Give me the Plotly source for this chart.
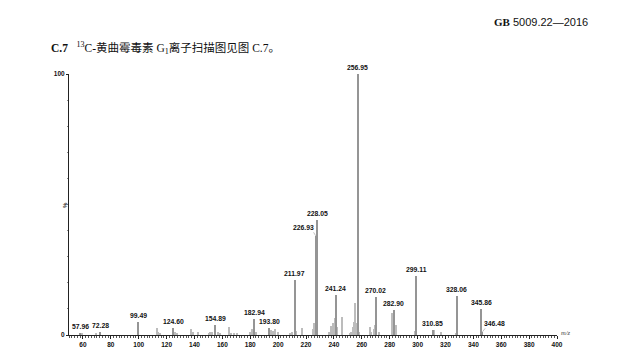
import plotly.graph_objects as go

# ---- data (m/z, relative intensity %) ----
label_mz = [57.96, 72.28, 99.49, 124.60, 154.89, 182.94, 193.80, 211.97, 226.93,
            228.05, 241.24, 256.95, 270.02, 282.90, 299.11, 310.85, 328.06, 345.86, 346.48]
label_int = [0.6, 1.0, 5.0, 2.5, 3.7, 6.1, 2.8, 21.0, 38.0,
             44.0, 15.3, 100.0, 14.6, 9.4, 22.5, 1.9, 15.0, 10.0, 1.2]
label_text = ["57.96", "72.28", "99.49", "124.60", "154.89", "182.94", "193.80", "211.97", "226.93",
              "228.05", "241.24", "256.95", "270.02", "282.90", "299.11", "310.85", "328.06", "345.86", "346.48"]

minor_mz = [59.0, 69.3, 113.0, 114.0, 115.0, 125.8, 127.2, 137.5, 138.7, 142.6,
            150.2, 151.2, 152.3, 156.6, 158.4, 165.0, 166.5, 168.6, 170.3, 179.9,
            181.0, 184.2, 195.0, 196.4, 198.1, 199.6, 208.3, 210.0, 212.6, 217.1,
            224.8, 225.9, 236.5, 238.2, 239.4, 240.5, 242.3, 245.6, 251.4, 252.6,
            253.8, 254.2, 255.0, 256.2, 257.8, 265.7, 266.9, 268.6, 269.3, 272.2,
            281.7, 284.8, 297.9, 298.5, 312.0, 316.6, 327.3]
minor_int = [0.5, 0.5, 2.5, 1.1, 0.6, 1.1, 0.8, 2.2, 1.1, 1.3,
             0.8, 1.1, 1.3, 1.1, 0.8, 3.2, 0.9, 0.9, 0.8, 1.1,
             2.2, 1.3, 1.9, 1.5, 2.2, 1.3, 0.9, 1.3, 1.5, 2.5,
             2.3, 4.6, 1.0, 3.4, 4.6, 6.5, 3.0, 7.0, 0.8, 1.3,
             3.0, 5.0, 12.4, 4.6, 1.2, 3.2, 1.0, 2.3, 4.0, 1.2,
             8.5, 3.8, 0.6, 1.5, 1.9, 1.0, 0.6]

x_ticks = list(range(60, 401, 20))
y_ticks = [0, 100]

# ---- figure ----
W, H = 632, 357
fig = go.Figure()
fig.add_trace(go.Bar(x=minor_mz, y=minor_int, width=0.75,
                     marker=dict(color="#bcbcbc", line=dict(width=0)), showlegend=False))
fig.add_trace(go.Bar(x=label_mz, y=label_int, width=0.75,
                     marker=dict(color="#959595", line=dict(width=0)), showlegend=False))

lab_font = dict(family="Liberation Sans, Arial", size=6.8, color="#111111")
for mz, h, t in zip(label_mz, label_int, label_text):
    xs, ys = 0, 0
    if t == "226.93":
        xs, ys = -12, 2
    elif t == "346.48":
        xs, ys = 12, 2
    fig.add_annotation(x=mz, y=h, text="<b>%s</b>" % t, showarrow=False,
                       xanchor="center", yanchor="bottom", xshift=xs, yshift=ys + 1,
                       font=lab_font)

# leader lines for offset labels
fig.add_annotation(x=226.93, y=38.0, ax=-3, ay=-5, axref="pixel", ayref="pixel",
                   showarrow=True, arrowhead=0, arrowwidth=0.6, arrowcolor="#999999", text="")
fig.add_annotation(x=346.48, y=1.2, ax=4, ay=-5, axref="pixel", ayref="pixel",
                   showarrow=True, arrowhead=0, arrowwidth=0.6, arrowcolor="#999999", text="")

x0, x1 = 69 / W, 557 / W
y0, y1 = 1 - 335 / H, 1 - 74 / H
tick_font = dict(family="Liberation Sans, Arial", size=6.5, color="#111111")
fig.update_layout(
    width=W, height=H, margin=dict(l=0, r=0, t=0, b=0, pad=0),
    paper_bgcolor="white", plot_bgcolor="white", bargap=0,
    font=dict(family="Liberation Sans, Arial"),
    xaxis=dict(domain=[x0, x1], range=[50, 400], showgrid=False, zeroline=False,
               automargin=False,
               showline=True, linecolor="#222222", linewidth=1,
               tickvals=x_ticks, ticktext=["<b>%d</b>" % v for v in x_ticks],
               ticks="outside", ticklen=3, tickcolor="#222222", tickwidth=1,
               tickfont=tick_font, ticklabelstandoff=0,
               minor=dict(dtick=2, tick0=0, ticks="outside", ticklen=1.5,
                          tickcolor="#555555", tickwidth=0.6)),
    yaxis=dict(domain=[y0, y1], range=[0, 100], showgrid=False, zeroline=False,
               automargin=False,
               showline=True, linecolor="#222222", linewidth=1,
               tickvals=y_ticks, ticktext=["<b>%d</b>" % v for v in y_ticks],
               ticks="outside", ticklen=2, tickcolor="#222222", tickwidth=1,
               tickfont=tick_font,
               minor=dict(dtick=10, tick0=0, ticks="outside", ticklen=1.5,
                          tickcolor="#888888", tickwidth=0.6)),
)

# header / title / axis labels
fig.add_annotation(xref="paper", yref="paper", x=590 / W, y=1 - 22 / H, xanchor="right", yanchor="middle",
                   showarrow=False,
                   text="<b><span style='font-family:Liberation Serif'>GB</span></b> 5009.22—2016",
                   font=dict(family="Liberation Sans, Arial", size=11, color="#111111"))
fig.add_annotation(xref="paper", yref="paper", x=49 / W, y=1 - 48 / H, xanchor="left", yanchor="middle",
                   showarrow=False,
                   text="<b>C.7</b>   <sup>13</sup>C-黄曲霉毒素 G<sub>1</sub>离子扫描图见图 C.7。",
                   font=dict(family="Liberation Serif, Noto Sans CJK SC", size=11.5, color="#111111"))
fig.add_annotation(xref="paper", yref="paper", x=65 / W, y=1 - 205 / H, xanchor="center", yanchor="middle",
                   showarrow=False, textangle=-90, text="<b>%</b>",
                   font=dict(family="Liberation Sans, Arial", size=6, color="#333333"))
fig.add_annotation(xref="paper", yref="paper", x=559 / W, y=1 - 332 / H, xanchor="left", yanchor="middle",
                   showarrow=False, text="<i>m/z</i>",
                   font=dict(family="Liberation Serif", size=6.5, color="#444444"))

fig.write_html("out.html", config={"displayModeBar": False},
               post_script="document.body.style.margin='0';document.body.style.overflow='hidden';")
